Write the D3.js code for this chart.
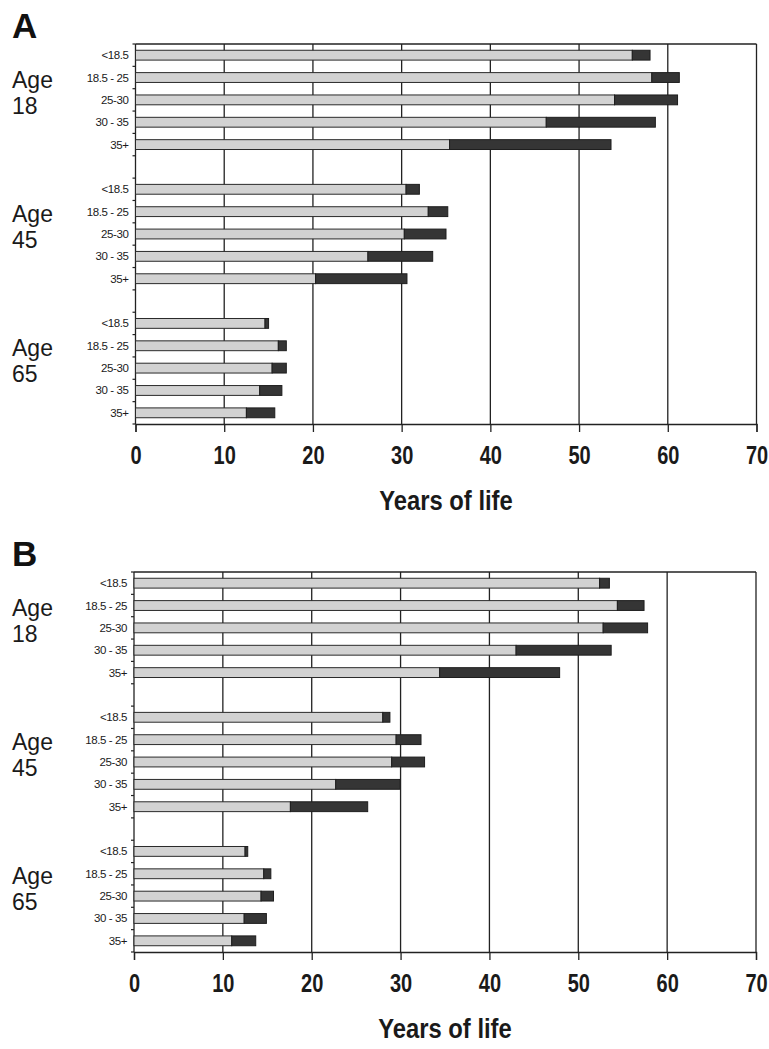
<!DOCTYPE html>
<html>
<head>
<meta charset="utf-8">
<script src="https://cdn.jsdelivr.net/npm/d3@7"></script>
<style>
  html, body { margin: 0; padding: 0; background: #fff; }
  svg { display: block; }
</style>
</head>
<body>
<svg id="chart" width="769" height="1049"></svg>
<script>
// ---------- DATA ----------
const categories = ["<18.5", "18.5 - 25", "25-30", "30 - 35", "35+"];
const ageGroups = ["18", "45", "65"];
const xTicks = [0, 10, 20, 30, 40, 50, 60, 70];
const panelLabels = ["A", "B"];
const axisTitle = "Years of life";

// Panel A: end of light segment, end of dark segment (total)
const A18_light = [56.0, 58.2, 54.0, 46.3, 35.4];
const A18_total = [58.0, 61.3, 61.1, 58.6, 53.6];
const A45_light = [30.5, 33.0, 30.3, 26.2, 20.3];
const A45_total = [32.0, 35.2, 35.0, 33.5, 30.6];
const A65_light = [14.6, 16.1, 15.4, 14.0, 12.5];
const A65_total = [15.0, 17.0, 17.0, 16.5, 15.7];

// Panel B
const B18_light = [52.4, 54.4, 52.8, 43.0, 34.4];
const B18_total = [53.5, 57.4, 57.8, 53.7, 47.9];
const B45_light = [28.0, 29.5, 29.0, 22.7, 17.6];
const B45_total = [28.8, 32.3, 32.7, 29.9, 26.3];
const B65_light = [12.5, 14.6, 14.3, 12.4, 11.0];
const B65_total = [12.8, 15.4, 15.7, 14.9, 13.7];

// ---------- BUILD ----------
const panels = [
  { label: panelLabels[0], light: [A18_light, A45_light, A65_light], total: [A18_total, A45_total, A65_total],
    x0: 135.5, x1: 756.5, y0: 44, y1: 424 },
  { label: panelLabels[1], light: [B18_light, B45_light, B65_light], total: [B18_total, B45_total, B65_total],
    x0: 134, x1: 756, y0: 572, y1: 952 }
];

// slot keys: 5 categories per age group, separated by one empty slot
const slots = [];
ageGroups.forEach((g, gi) => {
  categories.forEach(c => slots.push(g + "|" + c));
  if (gi < ageGroups.length - 1) slots.push("gap" + gi);
});

const svg = d3.select("#chart");
const LIGHT = "#d2d2d2", DARK = "#353535", LINE = "#222";
const sans = "'Liberation Sans', Arial, sans-serif";

panels.forEach(p => {
  const g = svg.append("g");
  const x = d3.scaleLinear().domain([0, 70]).range([p.x0, p.x1]);
  const y = d3.scaleBand().domain(slots).range([p.y0, p.y1]).paddingInner(0).paddingOuter(0);
  const bh = y.bandwidth() * 0.44;

  // panel letter
  g.append("text").attr("x", 12).attr("y", p.y0 - 6)
    .attr("font-family", sans).attr("font-weight", "bold").attr("font-size", 35)
    .attr("fill", "#111").text(p.label);

  // vertical gridlines
  g.selectAll(".grid").data(xTicks.filter(t => t > 0 && t < 70)).enter().append("line")
    .attr("x1", d => x(d)).attr("x2", d => x(d))
    .attr("y1", p.y0).attr("y2", p.y1)
    .attr("stroke", LINE).attr("stroke-width", 1.3);

  // x axis (bottom) with outward ticks
  const xAxis = d3.axisBottom(x).tickValues(xTicks).tickSize(8).tickFormat(d3.format("d")).tickPadding(14);
  const xa = g.append("g").attr("transform", `translate(0,${p.y1})`).call(xAxis);
  xa.select(".domain").attr("stroke", LINE).attr("stroke-width", 1.3);
  xa.selectAll(".tick line").attr("stroke", LINE).attr("stroke-width", 1.3);
  xa.selectAll(".tick text")
    .attr("font-family", sans).attr("font-weight", "bold").attr("font-size", 25)
    .attr("transform", "scale(0.8,1)")
    .attr("fill", "#1a1a1a");

  // top & right border
  g.append("line").attr("x1", p.x0).attr("x2", p.x1).attr("y1", p.y0).attr("y2", p.y0)
    .attr("stroke", LINE).attr("stroke-width", 1.3);
  g.append("line").attr("x1", p.x1).attr("x2", p.x1).attr("y1", p.y0).attr("y2", p.y1)
    .attr("stroke", LINE).attr("stroke-width", 1.3);

  // left axis with small ticks at slot boundaries
  const bounds = slots.map(s => y(s)).concat([p.y1]);
  g.append("line").attr("x1", p.x0).attr("x2", p.x0).attr("y1", p.y0).attr("y2", p.y1)
    .attr("stroke", LINE).attr("stroke-width", 1.3);
  g.selectAll(".ytick").data(bounds).enter().append("line")
    .attr("x1", p.x0 - 3).attr("x2", p.x0).attr("y1", d => d).attr("y2", d => d)
    .attr("stroke", LINE).attr("stroke-width", 1.2);

  // bars
  ageGroups.forEach((ag, gi) => {
    const rows = categories.map((c, ci) => ({
      key: ag + "|" + c, cat: c, light: p.light[gi][ci], total: p.total[gi][ci]
    }));
    const rg = g.append("g");
    rg.selectAll(".lt").data(rows).enter().append("rect")
      .attr("x", x(0)).attr("y", d => y(d.key) + (y.bandwidth() - bh) / 2)
      .attr("width", d => x(d.light) - x(0)).attr("height", bh)
      .attr("fill", LIGHT).attr("stroke", "#2a2a2a").attr("stroke-width", 1);
    rg.selectAll(".dk").data(rows).enter().append("rect")
      .attr("x", d => x(d.light)).attr("y", d => y(d.key) + (y.bandwidth() - bh) / 2)
      .attr("width", d => x(d.total) - x(d.light)).attr("height", bh)
      .attr("fill", DARK).attr("stroke", "#1e1e1e").attr("stroke-width", 1);

    // category labels
    rg.selectAll(".cl").data(rows).enter().append("text")
      .attr("x", p.x0 - 7).attr("y", d => y(d.key) + y.bandwidth() / 2)
      .attr("dy", "0.35em").attr("text-anchor", "end")
      .attr("font-family", sans).attr("font-size", 11.5).attr("letter-spacing", -0.4)
      .attr("fill", "#1a1a1a").text(d => d.cat);

    // age group label (two lines)
    const mid = y(ag + "|" + categories[2]) + y.bandwidth() / 2;
    const t = g.append("text").attr("x", 12).attr("font-family", sans).attr("font-size", 23).attr("fill", "#1a1a1a");
    t.append("tspan").attr("x", 12).attr("y", mid - 12).text("Age");
    t.append("tspan").attr("x", 12).attr("y", mid + 14).text(ag);
  });

  // axis title
  g.append("g").attr("transform", `translate(${(p.x0 + p.x1) / 2},${p.y1 + 86})`)
    .append("text").attr("x", 0).attr("y", 0).attr("transform", "scale(0.85,1)")
    .attr("text-anchor", "middle").attr("font-family", sans).attr("font-weight", "bold")
    .attr("font-size", 28).attr("fill", "#1a1a1a").text(axisTitle);
});
</script>
</body>
</html>
